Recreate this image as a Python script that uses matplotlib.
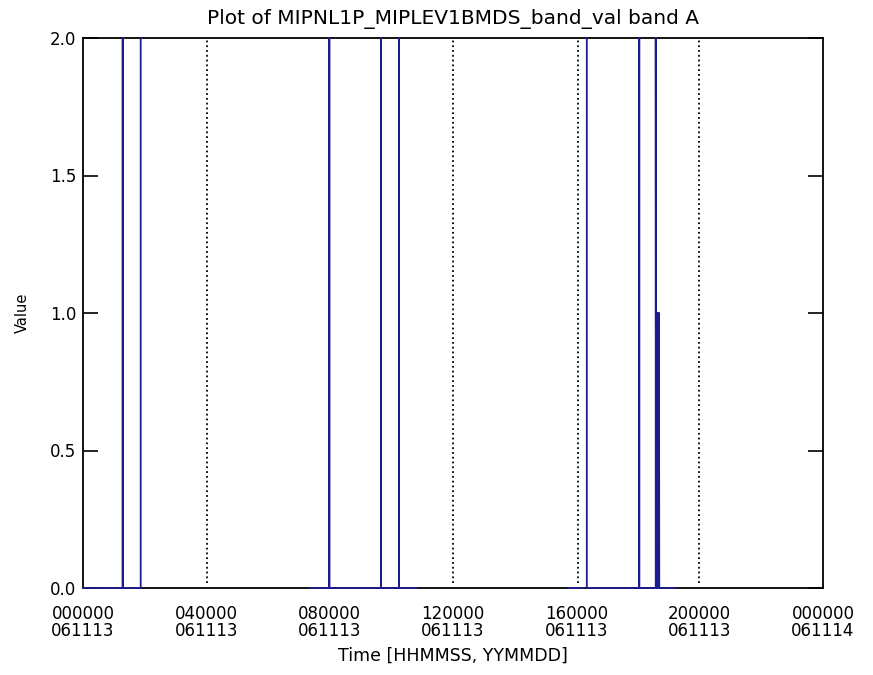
import numpy as np
import matplotlib
matplotlib.use("Agg")
import matplotlib.pyplot as plt

# time in hours since 000000 061113, value of band_val
seg1_t = [0.00, 1.288, 1.288, 1.288, 1.871, 1.871]
seg1_v = [0, 0, 2.0, 0, 0, 2.0]

seg2_t = [7.36, 7.988, 7.988, 7.988, 9.665, 9.665, 9.665, 10.25, 10.25, 10.25, 10.83]
seg2_v = [0, 0, 2.0, 0, 0, 2.0, 0, 0, 2.0, 0, 0]

seg3_t = [15.73, 16.22]
seg3_v = [0, 0]

seg4_t = [16.34, 16.34, 18.04, 18.04, 18.04, 18.575, 18.575, 18.585,
          18.60, 18.61, 18.62, 18.63, 18.64, 18.65, 18.66, 18.67, 18.68, 18.69, 19.23]
seg4_v = [2.0, 0, 0, 2.0, 0, 0, 2.0, 0,
          1.0, 0, 1.0, 0, 1.0, 0, 1.0, 0, 1.0, 0, 0]

# dotted marker lines
marker_t = [4.012, 11.99, 16.04, 19.99]

tick_hours = [0, 4, 8, 12, 16, 20, 24]
tick_labels = ["000000\n061113", "040000\n061113", "080000\n061113",
               "120000\n061113", "160000\n061113", "200000\n061113",
               "000000\n061114"]

segs = [(seg1_t, seg1_v), (seg2_t, seg2_v), (seg3_t, seg3_v), (seg4_t, seg4_v)]
t_all = []
v_all = []
for t, v in segs:
    t_all += list(t) + [np.nan]
    v_all += list(v) + [np.nan]

fig = plt.figure(figsize=(8.73, 6.75), dpi=100)
ax = fig.add_axes([83 / 873, 1 - 588 / 675, 740 / 873, 550 / 675])

ax.plot(t_all, v_all, color="#1c1c8e", linewidth=1.3, zorder=3, clip_on=False)
ax.vlines(marker_t, 0.02, 2.0, colors="black", linestyles=":", linewidth=1.3)

ax.set_xlim(0, 24)
ax.set_ylim(0, 2)
ax.set_xticks(tick_hours)
ax.set_xticklabels(tick_labels, fontsize=12, linespacing=0.95)
ax.set_yticks([0, 0.5, 1.0, 1.5, 2.0])
ax.set_yticklabels(["0.0", "0.5", "1.0", "1.5", "2.0"], fontsize=12)
ax.tick_params(axis="x", length=0, pad=12)
ax.tick_params(axis="y", direction="in", length=11, width=1.2, right=True, pad=5)
for s in ax.spines.values():
    s.set_linewidth(1.3)

ax.set_title("Plot of MIPNL1P_MIPLEV1BMDS_band_val band A", fontsize=14.5, pad=10)
ax.set_xlabel("Time [HHMMSS, YYMMDD]", fontsize=12.5, labelpad=5)
ax.set_ylabel("Value", fontsize=10.5, labelpad=14)

fig.savefig("out.png", dpi=100)
